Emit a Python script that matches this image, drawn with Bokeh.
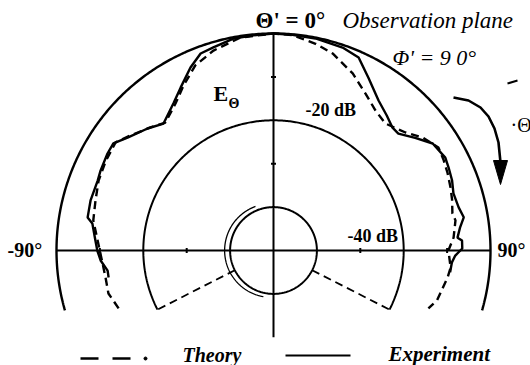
import numpy as np
from bokeh.plotting import figure
from bokeh.models import Range1d
from bokeh.core.properties import value
from bokeh.embed import file_html
from bokeh.resources import INLINE

# E-theta pattern in the phi' = 90 deg observation plane.
# Angle in degrees measured from theta' = 0 (top), clockwise positive; level in dB.
exp_theta = [-99.3, -96.9, -93.3, -90.0, -86.8, -81.5, -79.9, -74.7, -68.3, -65.2,
             -59.7, -56.2, -52.3, -45.9, -40.9, -34.2, -29.7, -24.4, -20.3, -16.5,
             -10.7, -5.3, 0.0, 5.0, 11.2, 18.8, 23.8, 28.8, 35.0, 40.0,
             44.1, 46.9, 51.5, 56.1, 61.6, 65.0, 68.6, 72.4, 76.9, 80.1,
             83.0, 86.0, 87.0, 89.4, 91.6, 93.8, 97.0]
exp_db = [-11.5, -11.5, -10.1, -9.4, -8.9, -7.8, -6.5, -6.3, -6.4, -6.1,
          -5.7, -5.6, -7.5, -9.6, -11.3, -9.0, -6.8, -3.7, -1.6, -1.2,
          -0.3, -0.2, 0.0, -0.1, -0.2, -0.6, -1.4, -4.6, -7.8, -9.4,
          -10.6, -10.6, -8.3, -5.8, -5.0, -5.4, -5.8, -6.5, -6.2, -5.5,
          -6.7, -7.5, -6.5, -6.5, -8.1, -8.8, -9.0]

theory_theta = [-110.5, -104.6, -99.1, -94.3, -86.7, -80.5, -74.3, -68.2, -62.0, -55.6,
                -51.2, -45.0, -40.2, -33.7, -28.6, -22.9, -16.7, -8.8, 0.0, 5.0,
                11.5, 16.7, 24.1, 30.4, 36.1, 41.4, 48.2, 52.8, 58.0, 62.0,
                66.0, 70.4, 74.0, 78.3, 80.6, 85.9, 90.0, 95.5, 98.8, 106.9, 110.5]
theory_db = [-11.9, -10.7, -10.8, -10.5, -9.4, -7.9, -7.4, -6.6, -6.2, -5.9,
             -7.7, -9.9, -11.4, -9.3, -6.7, -3.7, -1.9, -0.35, 0.0, -0.2,
             -1.4, -2.6, -5.3, -8.1, -10.1, -11.0, -9.2, -6.9, -5.2, -5.6,
             -6.1, -6.7, -7.2, -7.9, -7.5, -8.4, -9.7, -9.0, -9.4, -10.6, -11.9]

# Shadow-boundary edges of the theory pattern (deg) and the levels they join (dB)
shadow_theta = [-117.0, 117.0]
shadow_db = [-40.0, -20.0]

# Polar grid
ring_db = [0.0, -20.0, -40.0]
ring_span = [106.0, 117.0, 180.0]
tick_db = [-10.0, -30.0]
ring_labels = ["-20 dB", "-40 dB"]
angle_labels = ["-90°", "90°"]

PX_PER_DB = 4.34
DB_FLOOR = -50.0
SERIF = value("Liberation Serif")


def radius(db):
    return (np.asarray(db, dtype=float) - DB_FLOOR) * PX_PER_DB


def polar(theta, db):
    t = np.radians(np.asarray(theta, dtype=float))
    r = radius(db)
    return r * np.sin(t), r * np.cos(t)


p = figure(width=530, height=365, output_backend="svg", toolbar_location=None,
           x_axis_type=None, y_axis_type=None, min_border=0,
           x_range=Range1d(-273, 257), y_range=Range1d(-115, 250))
p.outline_line_color = None
p.background_fill_color = "white"
p.border_fill_color = "white"

# rings
for db, span in zip(ring_db, ring_span):
    th = np.linspace(-span, span, 400)
    x, y = polar(th, np.full_like(th, db))
    p.line(x, y, line_color="black", line_width=2.4 if db == 0 else 2.0)

# second trace of the small circle (slightly larger on the left)
th = np.linspace(-170, -20, 200)
x, y = polar(th, np.full_like(th, ring_db[2] + 0.8))
p.line(x - 2, y, line_color="black", line_width=1.3)

# axes through the centre
hx, hy = polar([-90, 90], [0, 0])
p.line(hx, hy, line_color="black", line_width=2.0)
vx, vy = polar([0, 180], [0, -30])
p.line(vx, vy, line_color="black", line_width=2.0)

# minor ticks on the axes
for db in tick_db:
    r = float(radius(db))
    for s in (-1, 1):
        p.line([s * r, s * r], [-2.5, 2.5], line_color="black", line_width=2)
    p.line([-2.5, 2.5], [r, r], line_color="black", line_width=2)

# measured and theoretical patterns
ex, ey = polar(exp_theta, exp_db)
p.line(ex, ey, line_color="black", line_width=2.4)
tx, ty = polar(theory_theta, theory_db)
p.line(tx, ty, line_color="black", line_width=2.4, line_dash="8 5")
for th_s in shadow_theta:
    sx, sy = polar([th_s, th_s], shadow_db)
    p.line(sx, sy, line_color="black", line_width=1.8, line_dash="8 5")


# labels, positioned by the middle of their text
def label(x, y, text, size, style="bold", align="left"):
    p.text(x=[x], y=[y], text=[text], text_font=SERIF, text_font_size=size,
           text_font_style=style, text_align=align, text_baseline="middle",
           text_color="black")


label(-18, 230, "Θ' = 0°", "23px", "bold")
label(69, 230, "Observation plane", "23px", "italic")
label(119, 193, "Φ' = 9 0°", "22px", "italic")
label(-60, 157, "E", "22px", "bold")
label(-45, 147, "Θ", "14px", "bold")
label(32, 141, ring_labels[0], "18px", "bold")
label(74, 15, ring_labels[1], "18px", "bold")
label(-266, 1, angle_labels[0], "20px", "bold")
label(224, 1, angle_labels[1], "20px", "bold")

# rotation arrow
ax = [180, 195, 207, 215, 221, 225, 227]
ay = [153, 150, 143, 134, 122, 108, 88]
p.line(ax, ay, line_color="black", line_width=2.6)
p.patch([220, 234, 227], [90, 90, 66], fill_color="black", line_color="black")
p.line([234, 244], [167, 170], line_color="black", line_width=2)
label(237, 126, "·Θ", "20px", "normal")

# legend
for x0, x1 in [(-193, -175), (-161, -143)]:
    p.line([x0, x1], [-108, -108], line_color="black", line_width=2.4)
p.scatter([-128], [-108], size=3, color="black")
label(-91, -104, "Theory", "20px", "bold italic")
p.line([12, 77], [-105, -105], line_color="black", line_width=2.2)
label(115, -103, "Experiment", "21px", "bold italic")

open("out.html", "w").write(file_html(p, INLINE))
